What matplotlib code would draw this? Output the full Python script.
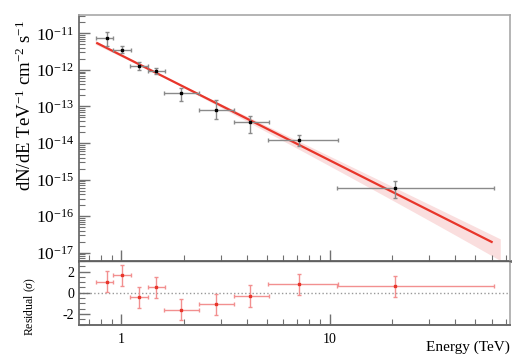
import numpy as np
import matplotlib
matplotlib.use("Agg")
import matplotlib.pyplot as plt
from matplotlib.ticker import LogLocator, FixedLocator, MultipleLocator, NullFormatter

plt.rcParams['font.family'] = ['Liberation Serif', 'DejaVu Serif']
plt.rcParams['mathtext.fontset'] = 'custom'
plt.rcParams['mathtext.rm'] = 'Liberation Serif'
plt.rcParams['mathtext.it'] = 'Liberation Serif:italic'

# spectral points (TeV, TeV^-1 cm^-2 s^-1)
energy = [0.857, 1.01, 1.212, 1.467, 1.94, 2.847, 4.16, 7.1, 20.6]
e_low = [0.754, 0.909, 1.105, 1.339, 1.608, 2.37, 3.46, 5.07, 10.9]
e_high = [0.915, 1.109, 1.339, 1.626, 2.37, 3.49, 5.1, 11.0, 61.7]
flux = [7.3e-12, 3.56e-12, 1.28e-12, 9.5e-13, 2.29e-13, 8.2e-14, 3.68e-14, 1.21e-14, 6.0e-16]
flux_hi = [1.05e-11, 4.4e-12, 1.64e-12, 1.15e-12, 3.13e-13, 1.5e-13, 5.4e-14, 1.63e-14, 9.1e-16]
flux_lo = [4.6e-12, 2.9e-12, 9.7e-13, 7.6e-13, 1.41e-13, 4.5e-14, 1.85e-14, 8.3e-15, 3.1e-16]
residual = [1.03, 1.63, -0.43, 0.53, -1.62, -1.09, -0.31, 0.79, 0.6]
resid_err = [1, 1, 1, 1, 1, 1, 1, 1, 1]

# power-law fit and its error band
norm = 2.5e-12   # at 1 TeV
index = 2.87
fit_range = (0.767, 60.0)
band_range = (0.75, 66.0)
band_s0 = 0.05
band_slope = 0.36
band_pivot = 0.18  # log10(E)

def powerlaw(e):
    return norm * e ** (-index)

E = np.array(energy)
F = np.array(flux)
xerr = [E - np.array(e_low), np.array(e_high) - E]
yerr = [F - np.array(flux_lo), np.array(flux_hi) - F]

fig = plt.figure(figsize=(5.24, 3.62), dpi=100)
ax = fig.add_axes([79 / 524, 1 - 261 / 362, 431 / 524, 246 / 362])
axr = fig.add_axes([79 / 524, 1 - 324.5 / 362, 431 / 524, 63.5 / 362], sharex=ax)

eb = np.logspace(np.log10(band_range[0]), np.log10(band_range[1]), 200)
s = np.sqrt(band_s0 ** 2 + (band_slope * (np.log10(eb) - band_pivot)) ** 2)
ax.fill_between(eb, powerlaw(eb) * (1 + s), powerlaw(eb) * np.clip(1 - s, 1e-3, None),
                color='#fadede', lw=0, zorder=1)
ef = np.logspace(np.log10(fit_range[0]), np.log10(fit_range[1]), 100)
ax.plot(ef, powerlaw(ef), color='#e8352a', lw=1.6, zorder=2)

ax.errorbar(E, F, xerr=xerr, yerr=yerr, fmt='s', ms=2.0, color='black',
            ecolor='#8a8a8a', elinewidth=1.0, capsize=1.5, zorder=3)

ax.set_xscale('log')
ax.set_yscale('log')
ax.set_xlim(0.627, 73.5)
ax.set_ylim(5.93e-18, 3.16e-11)
ax.yaxis.set_major_locator(FixedLocator([10.0 ** k for k in range(-17, -10)]))
ax.yaxis.set_minor_locator(LogLocator(base=10, subs=np.arange(2, 10), numticks=20))
ax.set_yticklabels(['10$^{%d}$' % k for k in range(-17, -10)], fontsize=12.5)
ax.yaxis.set_minor_formatter(NullFormatter())
ax.tick_params(axis='x', which='both', labelbottom=False)

for a in (ax, axr):
    a.tick_params(which='both', direction='in', color='#707070', top=False, right=False)
    a.tick_params(which='major', length=8, width=1.0)
    a.tick_params(which='minor', length=4, width=0.8)
    for side in ('top', 'right'):
        a.spines[side].set_color('#a8a8a8')
        a.spines[side].set_linewidth(1.2)
    a.spines['left'].set_color('#606060')
    a.spines['left'].set_linewidth(1.2)
ax.spines['bottom'].set_color('#606060')
ax.spines['bottom'].set_linewidth(2.0)
axr.spines['bottom'].set_color('#6a6a6a')
axr.spines['bottom'].set_linewidth(1.4)
axr.spines['top'].set_color('#606060')
axr.spines['top'].set_linewidth(1.0)

# residual panel
axr.axhline(0, color='#999999', lw=1.0, ls=':', zorder=1)
axr.errorbar(E, residual, xerr=xerr, yerr=resid_err, fmt='s', ms=2.0, color='#e8352a',
             ecolor='#f29090', elinewidth=1.0, capsize=1.5, zorder=3)
axr.set_ylim(-3, 3)
axr.yaxis.set_major_locator(FixedLocator([-2, 0, 2]))
axr.yaxis.set_minor_locator(MultipleLocator(0.5))
axr.set_yticklabels(['-2', '0', '2'], fontsize=10)
axr.xaxis.set_major_locator(FixedLocator([1, 10]))
axr.xaxis.set_minor_locator(LogLocator(base=10, subs=np.arange(2, 10), numticks=20))
axr.xaxis.set_minor_formatter(NullFormatter())
axr.set_xticklabels(['1', '10'], fontsize=10)
axr.tick_params(axis='x', pad=6)

fig.text(0.048, 1 - 20 / 362, 'dN/dE TeV$^{-1}$ cm$^{-2}$ s$^{-1}$', rotation=90,
         ha='center', va='top', fontsize=13.5)
fig.text(30 / 524, 1 - 306 / 362, 'Residual ($\\sigma$)', rotation=90,
         ha='center', va='center', fontsize=8.5)
fig.text(510 / 524, 1 - 347 / 362, 'Energy (TeV)', ha='right', va='center', fontsize=11)

fig.savefig('out.png', dpi=100)
